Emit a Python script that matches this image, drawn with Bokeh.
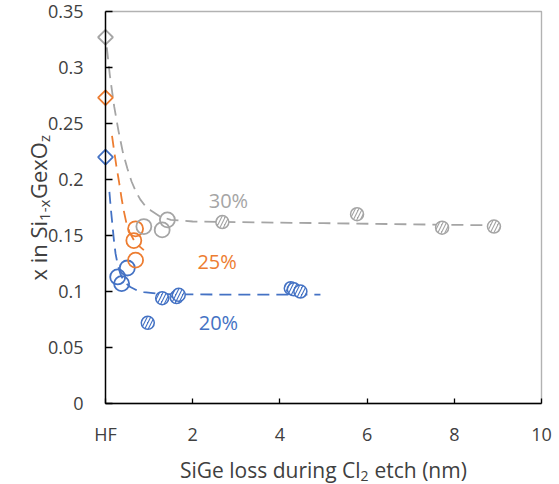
import math
from bokeh.plotting import figure
from bokeh.models import Range1d, FixedTicker, LinearAxis, Label, BoxAnnotation
from bokeh.embed import file_html
from bokeh.resources import INLINE

# ---------------- data ----------------
x_ticks = [0, 2, 4, 6, 8, 10]
x_tick_labels = ["HF", "2", "4", "6", "8", "10"]
y_ticks = [0, 0.05, 0.1, 0.15, 0.2, 0.25, 0.3, 0.35]
y_tick_labels = ["0", "0.05", "0.1", "0.15", "0.2", "0.25", "0.3", "0.35"]

series_names = ["20%", "25%", "30%"]
colors = ["#4472C4", "#ED7D31", "#A5A5A5"]

# HF reference points (diamonds at x = 0)
hf_x = [0, 0, 0]
hf_y = [0.220, 0.273, 0.327]

# 20 %
open20_x = [0.28, 0.37, 0.50]
open20_y = [0.113, 0.107, 0.121]
hatch20_x = [0.97, 1.30, 1.63, 1.68, 4.25, 4.32, 4.47]
hatch20_y = [0.072, 0.094, 0.095, 0.097, 0.103, 0.102, 0.100]
fit20_x = [0.09, 0.12, 0.15, 0.19, 0.23, 0.28, 0.34, 0.42, 0.57, 0.72, 0.88, 1.2, 1.6, 2.5, 3.5, 4.93]
fit20_y = [0.189, 0.175, 0.163, 0.147, 0.134, 0.124, 0.116, 0.109, 0.104, 0.101, 0.0994, 0.098, 0.0975, 0.0973, 0.0973, 0.0973]

# 25 %
open25_x = [0.65, 0.69, 0.69]
open25_y = [0.1455, 0.156, 0.128]
fit25_x = [0.15, 0.20, 0.25, 0.31, 0.37, 0.42, 0.48, 0.55, 0.65, 0.76, 0.88]
fit25_y = [0.239, 0.225, 0.212, 0.198, 0.183, 0.172, 0.161, 0.153, 0.146, 0.141, 0.137]

# 30 %
open30_x = [0.88, 1.30, 1.42]
open30_y = [0.158, 0.155, 0.164]
hatch30_x = [2.68, 5.77, 7.72, 8.91]
hatch30_y = [0.162, 0.169, 0.157, 0.158]
fit30_x = [0.03, 0.1, 0.2, 0.3, 0.4, 0.5, 0.6, 0.7, 0.8, 0.9, 1.05, 1.25, 1.5, 2.0, 3.0, 5.0, 7.0, 9.0]
fit30_y = [0.318, 0.293, 0.265, 0.243, 0.224, 0.210, 0.198, 0.189, 0.182, 0.177, 0.172, 0.167, 0.164, 0.1625, 0.162, 0.161, 0.160, 0.159]

# series label positions (data coords)
lab_x = [2.59, 2.56, 2.82]
lab_y = [0.072, 0.127, 0.181]

# ---------------- figure ----------------
FONT = "Open Sans"
TXT = "#404040"
X0, X1 = 0, 10
Y0, Y1 = 0, 0.35

# the frame fills the whole canvas; the chart box is drawn at fixed locations inside it
p = figure(width=559, height=484, output_backend="svg", toolbar_location=None,
           x_range=Range1d(-2.408, 10.413), y_range=Range1d(-0.0723, 0.3598),
           x_axis_type=None, y_axis_type=None,
           min_border_left=0, min_border_right=0, min_border_top=0, min_border_bottom=0)
p.outline_line_color = None
p.background_fill_color = "white"
p.border_fill_color = "white"


def style_axis(ax):
    ax.axis_line_color = "black"
    ax.axis_line_width = 1.4
    ax.major_tick_line_color = "black"
    ax.major_tick_line_width = 1.3
    ax.minor_tick_line_color = None
    ax.major_label_text_font = FONT
    ax.major_label_text_font_size = "18px"
    ax.major_label_text_color = TXT


xaxis = LinearAxis(ticker=FixedTicker(ticks=x_ticks), bounds=(X0, X1), fixed_location=Y0,
                   major_label_overrides=dict(zip(x_ticks, x_tick_labels)))
style_axis(xaxis)
xaxis.major_tick_in = 5
xaxis.major_tick_out = 0
xaxis.major_label_standoff = 18
p.add_layout(xaxis, "below")

yaxis = LinearAxis(ticker=FixedTicker(ticks=y_ticks), bounds=(Y0, Y1), fixed_location=X0,
                   major_label_overrides=dict(zip(y_ticks, y_tick_labels)))
style_axis(yaxis)
yaxis.major_tick_in = 7
yaxis.major_tick_out = 0
yaxis.major_label_standoff = 22
p.add_layout(yaxis, "left")

# chart box
p.add_layout(BoxAnnotation(left=X0, right=X1, bottom=Y0, top=Y1, fill_color=None,
                           line_color="black", line_width=1.4))

# trend lines
for fx, fy, c in ((fit20_x, fit20_y, colors[0]), (fit25_x, fit25_y, colors[1]), (fit30_x, fit30_y, colors[2])):
    p.line(fx, fy, line_color=c, line_width=1.8, line_dash="12 7")

# HF diamonds
p.scatter(hf_x, hf_y, marker="square", angle=math.pi / 4, size=10.5,
          fill_color=None, line_color=colors, line_width=1.8)

# open circles
for ox, oy, c in ((open20_x, open20_y, colors[0]), (open25_x, open25_y, colors[1]), (open30_x, open30_y, colors[2])):
    p.scatter(ox, oy, marker="circle", size=15, fill_color=None, line_color=c, line_width=1.8)

# hatched circles
for hx, hy, c in ((hatch20_x, hatch20_y, colors[0]), (hatch30_x, hatch30_y, colors[2])):
    p.scatter(hx, hy, marker="circle", size=13, fill_color=c, line_color=c, line_width=1.5,
              hatch_pattern="/", hatch_color="white", hatch_scale=7, hatch_weight=2)

# series labels
for t, lx, ly, c in zip(series_names, lab_x, lab_y, colors):
    p.add_layout(Label(x=lx, y=ly, text=t, text_color=c, text_font=FONT, text_font_size="20px",
                       text_align="center", text_baseline="middle"))

# x axis title: "SiGe loss during Cl" + sub "2" + " etch (nm)"
p.add_layout(Label(x=5.85, y=-0.0598, text="SiGe loss during Cl", text_font=FONT, text_font_size="21px",
                   text_color=TXT, text_align="right", text_baseline="alphabetic"))
p.add_layout(Label(x=5.85, y=-0.0643, text="2", text_font=FONT, text_font_size="14px",
                   text_color=TXT, text_align="left", text_baseline="alphabetic"))
p.add_layout(Label(x=6.17, y=-0.0598, text="etch (nm)", text_font=FONT, text_font_size="21px",
                   text_color=TXT, text_align="left", text_baseline="alphabetic"))

# y axis title: "x in Si" + sub "1-x" + "GexO" + sub "z"
A = math.pi / 2
p.add_layout(Label(x=-1.537, y=0.163, text="x in Si", angle=A, text_font=FONT, text_font_size="22px",
                   text_color=TXT, text_align="right", text_baseline="alphabetic"))
p.add_layout(Label(x=-1.42, y=0.163, text="1-x", angle=A, text_font=FONT, text_font_size="15px",
                   text_color=TXT, text_align="left", text_baseline="alphabetic"))
p.add_layout(Label(x=-1.537, y=0.1825, text="GexO", angle=A, text_font=FONT, text_font_size="22px",
                   text_color=TXT, text_align="left", text_baseline="alphabetic"))
p.add_layout(Label(x=-1.42, y=0.2334, text="z", angle=A, text_font=FONT, text_font_size="15px",
                   text_color=TXT, text_align="left", text_baseline="alphabetic"))

open("out.html", "w").write(file_html(p, INLINE))
